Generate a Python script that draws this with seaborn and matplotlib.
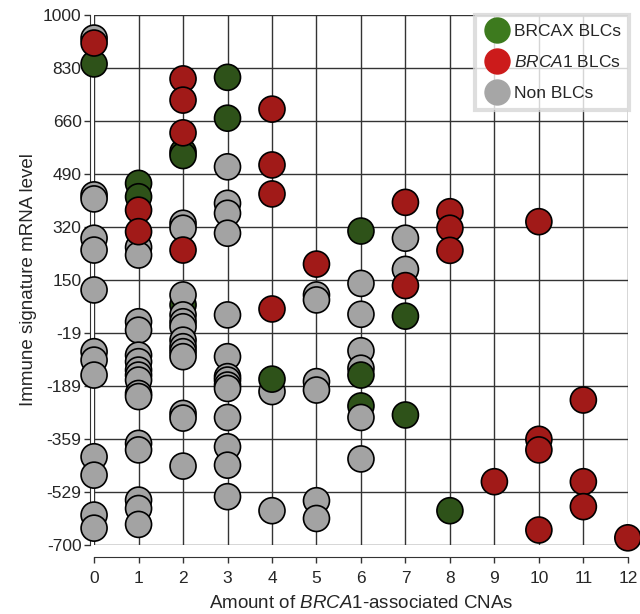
import pandas as pd
import numpy as np
import matplotlib
matplotlib.use('Agg')
import matplotlib.pyplot as plt
from matplotlib.lines import Line2D
import seaborn as sns

# values
# BRCAX BLCs hidden behind the grey cluster (drawn first)
brcax_back_x = [2, 6]
brcax_back_y = [70, -254]

nonblc_x = ([0] * 13 + [1] * 16 + [2] * 13 + [3] * 14 + [4] * 2 + [5] * 6 + [6] * 6 + [7] * 2)
nonblc_y = [926, 423, 410, 284, 246, 118, -80, -107, -155, -417, -476, -604, -646,
            255, 230, 16, -11, -91, -112, -139, -155, -171, -214, -224, -374, -395, -556, -583, -634,
            332, 316, 102, 38, 16, 0, -43, -64, -80, -96, -278, -293, -447,
            513, 396, 364, 300, 38, -96, -160, -171, -187, -198, -291, -385, -444, -545,
            -208, -590,
            102, 86, -176, -203, -558, -615,
            139, 40, -77, -133, -291, -424,
            284, 184]

brcax_x = [0, 1, 1, 2, 2, 3, 3, 4, 6, 6, 7, 7, 8]
brcax_y = [843, 460, 417, 561, 549, 800, 669, -168, 307, -155, 34, -283, -590]

brca1_x = [0, 1, 1, 2, 2, 2, 2, 4, 4, 4, 4, 5, 7, 7, 8, 8, 8, 9, 10, 10, 10, 10, 11, 11, 11, 12]
brca1_y = [910, 374, 305, 795, 727, 622, 246, 698, 519, 426, 57, 201, 399, 132, 369, 316, 245,
           -497, 337, -361, -395, -652, -235, -497, -577, -677]

ytick_vals = np.linspace(-700, 1000, 11)
ytick_labels = ['-700', '-529', '-359', '-189', '-19', '150', '320', '490', '660', '830', '1000']

groups = ['BRCAX'] * len(brcax_back_x) + ['Non'] * len(nonblc_x) + ['BRCAX'] * len(brcax_x) + ['BRCA1'] * len(brca1_x)
df = pd.DataFrame({
    'cna': brcax_back_x + nonblc_x + brcax_x + brca1_x,
    'immune': brcax_back_y + nonblc_y + brcax_y + brca1_y,
    'group': groups,
})

sns.set_style('white')
plt.rcParams['font.family'] = ['Liberation Sans', 'DejaVu Sans']
plt.rcParams['mathtext.fontset'] = 'custom'
plt.rcParams['mathtext.it'] = 'Liberation Sans:italic'
plt.rcParams['mathtext.rm'] = 'Liberation Sans'

fig = plt.figure(figsize=(6.4, 6.14), dpi=100)
ax = fig.add_axes([0.147, 0.1124, 0.834, 0.8632])

point_colors = {'BRCAX': '#2e5219', 'BRCA1': '#a11a18', 'Non': '#a3a3a3'}
sns.scatterplot(data=df, x='cna', y='immune', hue='group', palette=point_colors,
                s=350, edgecolor='black', linewidth=1.2, legend=False, ax=ax,
                clip_on=False, zorder=3)

ax.set_xlim(0, 12)
ax.set_ylim(-700, 1000)
ax.set_xticks(range(13))
ax.set_yticks(ytick_vals)
ax.set_yticklabels(ytick_labels)
ax.grid(True, color='#333333', linewidth=1.0)
ax.set_axisbelow(True)

# spines: grid already draws the frame, axis lines offset outside
for side in ['top', 'right']:
    ax.spines[side].set_visible(False)
ax.spines['left'].set_position(('outward', 3))
ax.spines['bottom'].set_position(('outward', 9))
ax.spines['left'].set_color('#333333')
ax.spines['bottom'].set_color('#333333')
ax.tick_params(axis='both', length=4, width=1, color='#333333', labelsize=12.5, pad=2,
               left=True, bottom=True)
ax.tick_params(axis='x', pad=6)

ax.set_xlabel('Amount of $\\it{BRCA}$1-associated CNAs', fontsize=13.5, labelpad=6)
ax.set_ylabel('Immune signature mRNA level', fontsize=13.5, labelpad=4)

legend_colors = ['#3d7a1e', '#cc1b1b', '#a6a6a6']
legend_labels = ['BRCAX BLCs', '$\\it{BRCA1}$ BLCs', 'Non BLCs']
handles = [Line2D([0], [0], marker='o', linestyle='', markersize=19,
                  markerfacecolor=c, markeredgewidth=0) for c in legend_colors]
leg = ax.legend(handles, legend_labels, loc='upper right', bbox_to_anchor=(1.003, 1.0),
                fontsize=12.5, frameon=True, fancybox=False, handletextpad=0.15,
                borderpad=0.5, labelspacing=0.9, handlelength=1.6, borderaxespad=0)
leg.get_frame().set_edgecolor('#d6d6d6')
leg.get_frame().set_linewidth(3)
leg.set_zorder(5)

fig.savefig('out.png', dpi=100)
